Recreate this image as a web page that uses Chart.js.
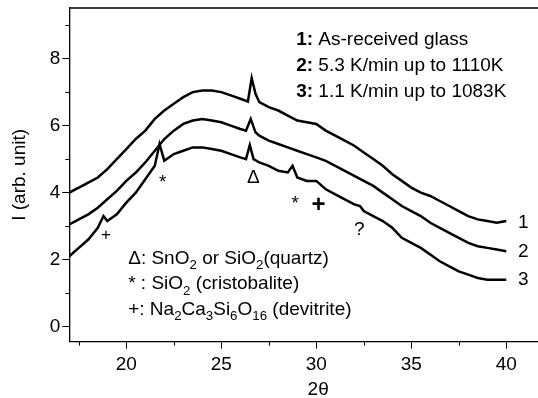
<!DOCTYPE html>
<html>
<head>
<meta charset="utf-8">
<script src="https://cdn.jsdelivr.net/npm/chart.js"></script>
<style>
  html, body { margin: 0; padding: 0; background: #fff; }
  canvas { display: block; }
</style>
</head>
<body>
<canvas id="xrd" width="538" height="398"></canvas>
<script>
// 2theta positions and intensities
const twoTheta1 = [17,17.5,18,18.5,19,19.5,20,20.5,21,21.5,22,22.5,23,23.5,24,24.5,25,25.5,26,26.4,26.6,26.8,27,27.5,28,28.5,29,29.5,30,30.5,31,31.5,32,32.5,33,33.5,34,34.5,35,35.5,36,36.5,37,37.5,38,38.5,39,39.5,40];
const curve1 = [4.0,4.15,4.3,4.45,4.7,5.0,5.3,5.6,5.85,6.2,6.45,6.65,6.85,7.0,7.05,7.05,7.0,6.9,6.8,6.72,7.42,6.95,6.7,6.55,6.45,6.3,6.15,6.1,6.05,5.85,5.7,5.55,5.4,5.2,5.0,4.8,4.55,4.35,4.15,4.0,3.9,3.75,3.6,3.45,3.3,3.2,3.15,3.1,3.15];

const twoTheta2 = [17,17.5,18,18.5,19,19.5,20,20.5,21,21.5,22,22.5,23,23.5,24,24.5,25,25.5,26,26.3,26.55,26.8,27,27.5,28,28.5,29,29.5,30,30.5,31,31.5,32,32.5,33,33.5,34,34.5,35,35.5,36,36.5,37,37.5,38,38.5,39,39.5,40];
const curve2 = [3.05,3.2,3.35,3.55,3.8,4.05,4.35,4.6,4.9,5.25,5.6,5.85,6.05,6.15,6.2,6.15,6.1,6.0,5.9,5.85,6.2,5.8,5.7,5.55,5.45,5.35,5.25,5.15,5.05,4.95,4.8,4.65,4.5,4.35,4.2,4.0,3.8,3.6,3.45,3.3,3.1,2.95,2.8,2.65,2.5,2.4,2.35,2.3,2.25];

const twoTheta3 = [17,17.5,18,18.5,18.8,19,19.5,20,20.5,21,21.5,21.75,22,22.5,23,23.5,24,24.5,25,25.5,26,26.3,26.5,26.7,27,27.5,28,28.5,28.75,29,29.5,30,30.5,31,31.5,32,32.3,32.5,33,33.5,34,34.5,35,35.5,36,36.5,37,37.5,38,38.5,39,39.5,40];
const curve3 = [2.1,2.35,2.6,2.95,3.3,3.15,3.35,3.7,4.0,4.4,4.8,5.45,4.95,5.15,5.25,5.35,5.35,5.3,5.25,5.15,5.05,5.0,5.42,5.0,4.9,4.8,4.65,4.6,4.8,4.45,4.35,4.35,4.1,3.95,3.8,3.65,3.6,3.45,3.3,3.15,2.95,2.65,2.5,2.35,2.15,1.95,1.8,1.65,1.55,1.45,1.4,1.4,1.4];

const xTicks = [20, 25, 30, 35, 40];
const xMinorTicks = [17.5, 22.5, 27.5, 32.5, 37.5];
const yTicks = [0, 2, 4, 6, 8];
const yMinorTicks = [1, 3, 5, 7, 9];

const curveLabels = ['1', '2', '3'];
const curveLabelY = [3.09, 2.23, 1.39];

const sampleLines = [
  [{t: '1:', bold: true}, {t: ' As-received glass'}],
  [{t: '2:', bold: true}, {t: ' 5.3 K/min up to 1110K'}],
  [{t: '3:', bold: true}, {t: ' 1.1 K/min up to 1083K'}]
];
const phaseLines = [
  [{t: '\u0394: SnO'}, {t: '2', sub: true}, {t: ' or SiO'}, {t: '2', sub: true}, {t: '(quartz)'}],
  [{t: '* : SiO'}, {t: '2', sub: true}, {t: ' (cristobalite)'}],
  [{t: '+: Na'}, {t: '2', sub: true}, {t: 'Ca'}, {t: '3', sub: true}, {t: 'Si'}, {t: '6', sub: true}, {t: 'O'}, {t: '16', sub: true}, {t: ' (devitrite)'}]
];
const peakMarks = [
  {t: '*', x: 21.92, y: 4.46, size: 19},
  {t: '\u0394', x: 26.69, y: 4.43, size: 19},
  {t: '*', x: 28.89, y: 3.83, size: 19},
  {t: '+', x: 30.12, y: 3.63, size: 24, bold: true},
  {t: '?', x: 32.26, y: 2.89, size: 19},
  {t: '+', x: 18.93, y: 2.74, size: 17}
];

const FONT = "'Liberation Sans', Arial, sans-serif";
Chart.defaults.font.family = FONT;
Chart.defaults.color = '#000';

function pts(xs, ys) {
  return xs.map((v, i) => ({x: v, y: ys[i]}));
}

function drawRuns(ctx, runs, x, y, size) {
  let cx = x;
  runs.forEach(r => {
    const s = r.sub ? size * 0.7 : size;
    ctx.font = (r.bold ? 'bold ' : '') + s + 'px ' + FONT;
    ctx.fillText(r.t, cx, r.sub ? y + size * 0.28 : y);
    cx += ctx.measureText(r.t).width;
  });
}

const extras = {
  id: 'extras',
  afterDraw(chart) {
    const {ctx, chartArea, scales} = chart;
    const x = scales.x, y = scales.y;
    ctx.save();
    ctx.strokeStyle = '#000';
    ctx.lineWidth = 1.3;
    ctx.beginPath();
    ctx.moveTo(chartArea.left, chartArea.top);
    ctx.lineTo(chartArea.right, chartArea.top);
    ctx.stroke();

    ctx.lineWidth = 1;
    xMinorTicks.forEach(v => {
      const px = Math.round(x.getPixelForValue(v)) + 0.5;
      ctx.beginPath();
      ctx.moveTo(px, chartArea.bottom);
      ctx.lineTo(px, chartArea.bottom + 4);
      ctx.stroke();
    });
    yMinorTicks.forEach(v => {
      const py = Math.round(y.getPixelForValue(v)) + 0.5;
      ctx.beginPath();
      ctx.moveTo(chartArea.left, py);
      ctx.lineTo(chartArea.left - 4, py);
      ctx.stroke();
    });

    ctx.fillStyle = '#000';
    ctx.textAlign = 'left';
    ctx.textBaseline = 'alphabetic';
    sampleLines.forEach((runs, i) => {
      drawRuns(ctx, runs, x.getPixelForValue(28.94), y.getPixelForValue(8.41 - i * 0.78), 19);
    });
    phaseLines.forEach((runs, i) => {
      drawRuns(ctx, runs, x.getPixelForValue(20.1), y.getPixelForValue(1.87 - i * 0.76), 19);
    });

    ctx.textAlign = 'center';
    ctx.textBaseline = 'middle';
    curveLabels.forEach((t, i) => {
      ctx.font = '19px ' + FONT;
      ctx.fillText(t, x.getPixelForValue(40.9), y.getPixelForValue(curveLabelY[i]));
    });
    peakMarks.forEach(m => {
      ctx.font = (m.bold ? 'bold ' : '') + m.size + 'px ' + FONT;
      const off = m.t === '*' ? m.size * 0.3 : 0;
      ctx.fillText(m.t, x.getPixelForValue(m.x), y.getPixelForValue(m.y) + off);
    });

    // x axis title, centred where the original (wider, cropped) frame had its middle
    ctx.font = '19px ' + FONT;
    ctx.fillText('2\u03b8', x.getPixelForValue(30.1), chartArea.bottom + 48);
    ctx.restore();
  }
};

const line = (xs, ys) => ({
  data: pts(xs, ys),
  borderColor: '#000',
  borderWidth: 2.5,
  pointRadius: 0,
  tension: 0,
  fill: false
});

new Chart(document.getElementById('xrd'), {
  type: 'line',
  data: {
    datasets: [line(twoTheta1, curve1), line(twoTheta2, curve2), line(twoTheta3, curve3)]
  },
  options: {
    responsive: false,
    animation: false,
    devicePixelRatio: 1,
    layout: { padding: { top: 8, right: 0, left: 0, bottom: 0 } },
    plugins: { legend: { display: false }, tooltip: { enabled: false } },
    scales: {
      x: {
        type: 'linear',
        min: 17,
        max: 41.67,
        afterBuildTicks: axis => { axis.ticks = xTicks.map(v => ({value: v})); },
        afterFit: axis => {
          axis.height = 56.3;
          axis.paddingLeft = 0;
          axis.paddingRight = 0;
        },
        ticks: { font: { size: 19 }, padding: 5, maxRotation: 0, color: '#000' },
        grid: { drawOnChartArea: false, drawTicks: true, tickLength: 7, color: '#000', tickWidth: 1 },
        border: { display: true, color: '#000', width: 1.3 }
      },
      y: {
        type: 'linear',
        min: -0.45,
        max: 9.51,
        afterBuildTicks: axis => { axis.ticks = yTicks.map(v => ({value: v})); },
        afterFit: axis => {
          axis.width = 69.3;
          axis.paddingTop = 0;
          axis.paddingBottom = 0;
        },
        ticks: { font: { size: 19 }, padding: 2, color: '#000' },
        grid: { drawOnChartArea: false, drawTicks: true, tickLength: 7, color: '#000', tickWidth: 1 },
        border: { display: true, color: '#000', width: 1.3 },
        title: { display: true, text: 'I (arb. unit)', font: { size: 19 }, padding: { top: 8, bottom: 0 } }
      }
    }
  },
  plugins: [extras]
});
</script>
</body>
</html>
